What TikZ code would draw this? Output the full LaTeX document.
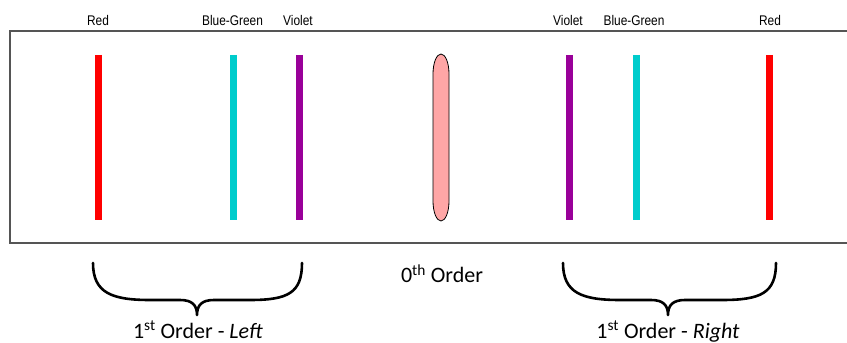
\documentclass[tikz,border=0pt]{standalone}
\usepackage{fontspec}
\newfontfamily\arialn[FakeStretch=0.85]{Liberation Sans}
\setmainfont{Carlito}
\definecolor{cred}{HTML}{FF0000}
\definecolor{ccyan}{HTML}{00CCCC}
\definecolor{cviolet}{HTML}{990099}
\definecolor{coval}{HTML}{FFA6A6}
\definecolor{cframe}{HTML}{555555}
\tikzset{
  bar/.style={line width=7pt},
  toplabel/.style={anchor=base, inner sep=0pt, font=\arialn\fontsize{14}{16}\selectfont},
  botlabel/.style={anchor=base, inner sep=0pt, font=\fontsize{22}{26}\selectfont},
  brace/.style={line width=2.6pt, line cap=round, line join=round},
}
\begin{document}
\begin{tikzpicture}[x=1pt,y=1pt]
\useasboundingbox (0,0) rectangle (847,343);
\begin{scope}
\clip (0,0) rectangle (847,343);
\draw[cframe, line width=1.4pt] (852,312) -- (10,312) -- (10,100) -- (852,100);
\end{scope}
% bars
\draw[bar, cred] (98.5,288) -- (98.5,123);
\draw[bar, ccyan] (233,288) -- (233,123);
\draw[bar, cviolet] (299,288) -- (299,123);
\draw[bar, cviolet] (569,288) -- (569,123);
\draw[bar, ccyan] (636,288) -- (636,123);
\draw[bar, cred] (769.5,288) -- (769.5,123);
% zeroth order oval
\draw[fill=coval, draw=black, line width=0.8pt] (433,269) -- (433,142) arc[start angle=180, end angle=360, x radius=8, y radius=20] -- (449,269) arc[start angle=0, end angle=180, x radius=8, y radius=20] -- cycle;
% top labels
\node[toplabel] (l1) at (98,317) {Red};
\node[toplabel] (l2) at (232.5,317) {Blue-Green};
\node[toplabel] (l3) at (298,317) {Violet};
\node[toplabel] (r3) at (568,317) {Violet};
\node[toplabel] (r2) at (634,317) {Blue-Green};
\node[toplabel] (r1) at (770,317) {Red};
% braces
\draw[brace] (93,80) .. controls (93,50) and (112,43) .. (150,43) -- (180,43) .. controls (192,43) and (197,38) .. (197,28) .. controls (197,38) and (202,43) .. (214,43) -- (250,43) .. controls (288,43) and (302,50) .. (302,80);
\draw[brace] (563,80) .. controls (563,50) and (582,43) .. (620,43) -- (651,43) .. controls (663,43) and (668,38) .. (668,28) .. controls (668,38) and (673,43) .. (685,43) -- (722,43) .. controls (761,43) and (776,50) .. (776,80);
% bottom labels
\node[botlabel] (z) at (442,60) {0\textsuperscript{th} Order};
\node[botlabel] (fl) at (198,5) {1\textsuperscript{st} Order - \textit{Left}};
\node[botlabel] (fr) at (668,5) {1\textsuperscript{st} Order - \textit{Right}};
\end{tikzpicture}
\end{document}
